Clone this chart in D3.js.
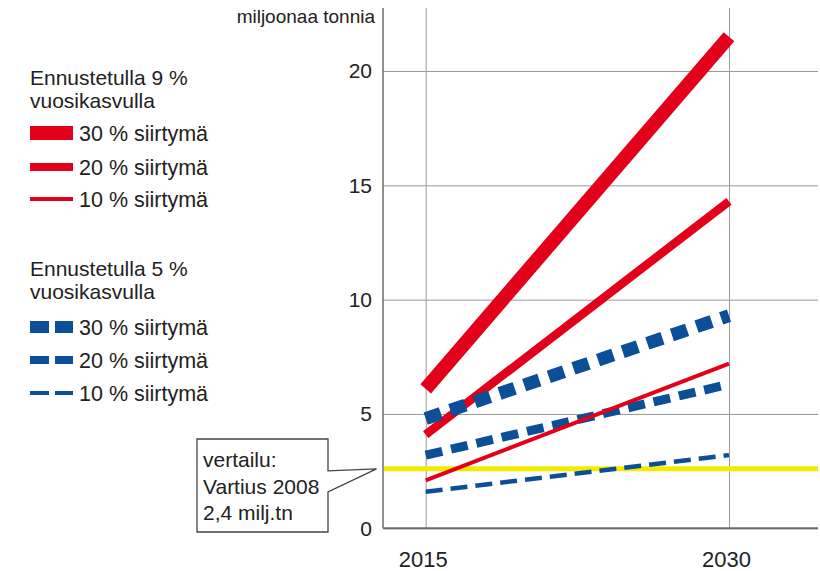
<!DOCTYPE html>
<html>
<head>
<meta charset="utf-8">
<script src="https://cdn.jsdelivr.net/npm/d3@7"></script>
<style>
  body { margin: 0; background: #fff; }
  svg { font-family: "Liberation Sans", Arial, sans-serif; }
</style>
</head>
<body>
<div id="chart"></div>
<script>
// values (miljoonaa tonnia)
const years = [2015, 2030];
const yTicks = [0, 5, 10, 15, 20];
const red30 = [6.1, 21.5];
const red20 = [4.1, 14.3];
const red10 = [2.1, 7.2];
const blue30 = [4.8, 9.3];
const blue20 = [3.2, 6.3];
const blue10 = [1.6, 3.2];
const reference = 2.6; // Vartius 2008 line as drawn
const legendLabels = ["30 % siirtymä", "20 % siirtymä", "10 % siirtymä"];

const red = "#e2001a";
const blue = "#0a4f98";
const textColor = "#222";

const width = 820, height = 571;
const plot = { left: 383, right: 818, top: 8, bottom: 528.3 };

const svg = d3.select("#chart").append("svg")
    .attr("width", width)
    .attr("height", height);

const x = d3.scaleLinear().domain([2015, 2030]).range([425.7, 729]);
const y = d3.scaleLinear().domain([0, 20]).range([plot.bottom, 71]);

// horizontal grid + tick labels
const yAxis = svg.append("g")
    .attr("transform", `translate(${plot.left},0)`)
    .call(d3.axisLeft(y).tickValues(yTicks).tickSize(-(plot.right - plot.left)).tickPadding(11));
yAxis.select(".domain").remove();
yAxis.selectAll(".tick line").attr("stroke", "#9a9a9a").attr("stroke-width", 1);
yAxis.selectAll(".tick text")
    .attr("fill", textColor)
    .style("font-size", "21px")
    .style("font-family", "Liberation Sans, Arial, sans-serif");

// vertical grid + year labels
const xAxis = svg.append("g")
    .attr("transform", `translate(0,${plot.bottom})`)
    .call(d3.axisBottom(x).tickValues(years).tickFormat(d3.format("d"))
        .tickSize(-(plot.bottom - plot.top)).tickPadding(23));
xAxis.select(".domain").remove();
xAxis.selectAll(".tick line").attr("stroke", "#9a9a9a").attr("stroke-width", 1);
xAxis.selectAll(".tick text")
    .attr("fill", textColor)
    .attr("dx", -3)
    .style("font-size", "22px")
    .style("font-family", "Liberation Sans, Arial, sans-serif");

// axis lines
svg.append("line")
    .attr("x1", plot.left).attr("x2", plot.left)
    .attr("y1", plot.top).attr("y2", plot.bottom)
    .attr("stroke", "#6e6e6e").attr("stroke-width", 1.5);
svg.append("line")
    .attr("x1", plot.left).attr("x2", plot.right)
    .attr("y1", plot.bottom).attr("y2", plot.bottom)
    .attr("stroke", "#6e6e6e").attr("stroke-width", 2);

svg.append("text")
    .attr("x", 375).attr("y", 23)
    .attr("text-anchor", "end")
    .attr("fill", textColor)
    .style("font-size", "19px")
    .text("miljoonaa tonnia");

// reference line
svg.append("line")
    .attr("x1", plot.left + 1).attr("x2", plot.right)
    .attr("y1", y(reference)).attr("y2", y(reference))
    .attr("stroke", "#f4ec00").attr("stroke-width", 5);

// series (drawing order follows the overlaps in the picture)
const series = [
    { values: red30, color: red, width: 14, dash: null },
    { values: red20, color: red, width: 8.5, dash: null },
    { values: blue30, color: blue, width: 13, dash: "16,10" },
    { values: blue20, color: blue, width: 9, dash: "17,9" },
    { values: red10, color: red, width: 4, dash: null },
    { values: blue10, color: blue, width: 4.5, dash: "17,8" }
];

const line = d3.line()
    .x((d, i) => x(years[i]))
    .y(d => y(d));

svg.append("g").selectAll("path")
    .data(series)
    .join("path")
    .attr("d", d => line(d.values))
    .attr("fill", "none")
    .attr("stroke", d => d.color)
    .attr("stroke-width", d => d.width)
    .attr("stroke-dasharray", d => d.dash)
    .attr("stroke-linecap", "butt");

// legend
const legendGroups = [
    { title: ["Ennustetulla 9 %", "vuosikasvulla"], titleY: 85, itemY: [133, 167, 199],
      color: red, widths: [14, 8, 4], dash: null },
    { title: ["Ennustetulla 5 %", "vuosikasvulla"], titleY: 276, itemY: [327, 360, 393],
      color: blue, widths: [12, 8, 4], dash: "19,6" }
];

legendGroups.forEach(g => {
    const lg = svg.append("g");
    lg.selectAll("text.title")
        .data(g.title)
        .join("text")
        .attr("class", "title")
        .attr("x", 30)
        .attr("y", (d, i) => g.titleY + i * 23)
        .attr("fill", textColor)
        .style("font-size", "21px")
        .text(d => d);

    legendLabels.forEach((label, i) => {
        lg.append("line")
            .attr("x1", 30).attr("x2", 73)
            .attr("y1", g.itemY[i]).attr("y2", g.itemY[i])
            .attr("stroke", g.color)
            .attr("stroke-width", g.widths[i])
            .attr("stroke-dasharray", g.dash);
        lg.append("text")
            .attr("x", 79).attr("y", g.itemY[i])
            .attr("dy", "0.36em")
            .attr("fill", textColor)
            .style("font-size", "21.5px")
            .text(label);
    });
});

// annotation box with pointer to the reference line
const tipY = y(reference);
const box = { x0: 197, x1: 328, y0: 439, y1: 532 };
const callout = d3.path();
callout.moveTo(box.x0, box.y0);
callout.lineTo(box.x1, box.y0);
callout.lineTo(box.x1, tipY + 2);
callout.lineTo(376.5, tipY);
callout.lineTo(box.x1, tipY + 23);
callout.lineTo(box.x1, box.y1);
callout.lineTo(box.x0, box.y1);
callout.closePath();

svg.append("path")
    .attr("d", callout.toString())
    .attr("fill", "#fff")
    .attr("stroke", "#444")
    .attr("stroke-width", 1.3);

const noteLines = ["vertailu:", "Vartius 2008", "2,4 milj.tn"];
svg.append("g").selectAll("text")
    .data(noteLines)
    .join("text")
    .attr("x", 203)
    .attr("y", (d, i) => 467 + i * 26.5)
    .attr("fill", textColor)
    .style("font-size", "21px")
    .text(d => d);
</script>
</body>
</html>
